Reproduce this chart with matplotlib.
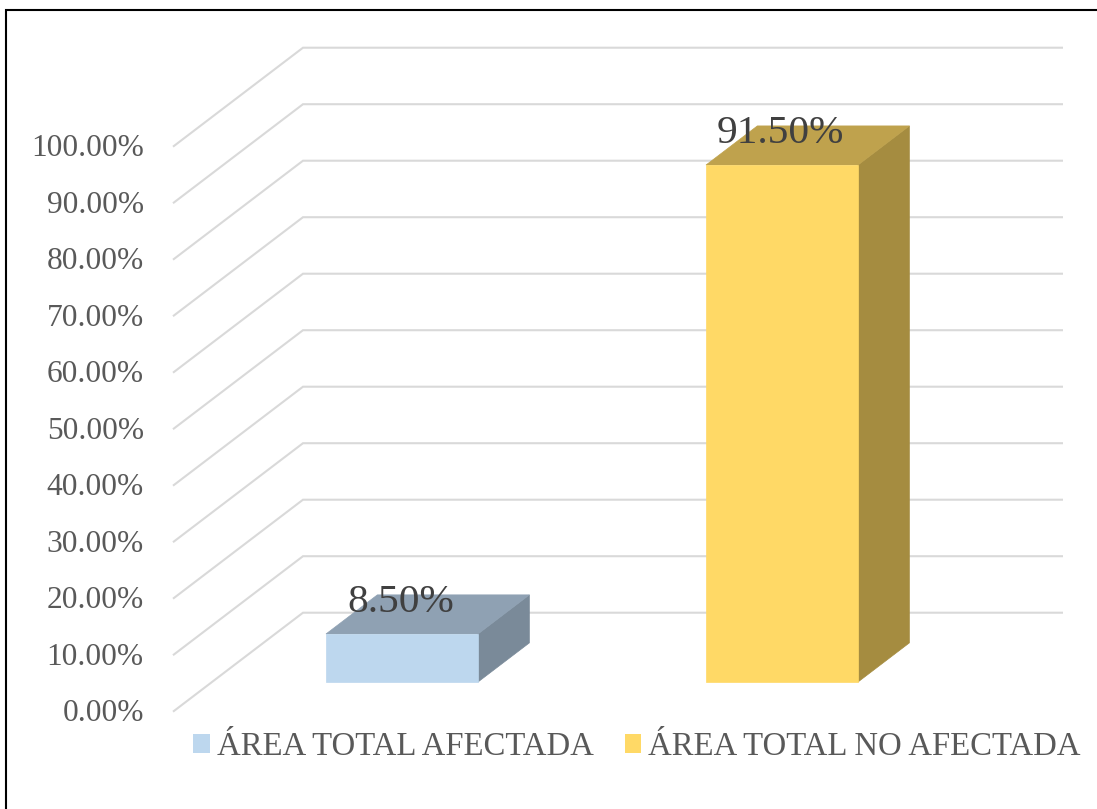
import matplotlib
matplotlib.use("Agg")
import matplotlib.pyplot as plt
from matplotlib.lines import Line2D
from matplotlib.patches import Patch
from matplotlib.transforms import ScaledTranslation

categories = ["ÁREA TOTAL AFECTADA", "ÁREA TOTAL NO AFECTADA"]
values = [8.5, 91.5]
value_labels = ["8.50%", "91.50%"]
ticks = [0, 10, 20, 30, 40, 50, 60, 70, 80, 90, 100]
tick_labels = ["0.00%", "10.00%", "20.00%", "30.00%", "40.00%", "50.00%",
               "60.00%", "70.00%", "80.00%", "90.00%", "100.00%"]
front_colors = ["#BDD7EE", "#FFD966"]
top_colors = ["#8FA1B3", "#BFA24D"]
side_colors = ["#7A8A99", "#A58C40"]

W, H = 1097, 809
plt.rcParams["font.family"] = ["Liberation Serif", "DejaVu Serif"]
fig = plt.figure(figsize=(W / 100, H / 100), dpi=100, facecolor="white")

# Oblique projection: depth 0 = front of floor, depth 1 = back wall
PX_PER_CAT = 380.0
PX_PER_VAL = 5.65
DEPTH_PX_X = 130.0
DEPTH_PX_Y = 99.0
DX = DEPTH_PX_X / PX_PER_CAT
DY = DEPTH_PX_Y / PX_PER_VAL
X0, Y0 = 173.0, 711.7

xmin, xmax = -0.5, 1.5 + DX
ymin, ymax = 0, 100 + DY
ax = fig.add_axes([X0 / W, (H - Y0) / H,
                   (xmax - xmin) * PX_PER_CAT / W,
                   (ymax - ymin) * PX_PER_VAL / H])
ax.set_xlim(xmin, xmax)
ax.set_ylim(ymin, ymax)
ax.patch.set_alpha(0)
for s in ax.spines.values():
    s.set_visible(False)


def proj(x, v, d):
    return x + d * DX, v + d * DY


GRID = "#D9D9D9"
for t in ticks:
    a = proj(-0.5, t, 0)
    b = proj(-0.5, t, 1)
    c = proj(1.5, t, 1)
    ax.plot([a[0], b[0], c[0]], [a[1], b[1], c[1]], color=GRID, lw=1.5,
            solid_joinstyle="miter", solid_capstyle="butt", zorder=1, clip_on=False)

HALF = 0.2
D0, D1 = 0.3, 0.695
for i, v in enumerate(values):
    xl, xr = i - HALF, i + HALF
    top = [proj(xl, v, D0), proj(xr, v, D0), proj(xr, v, D1), proj(xl, v, D1)]
    side = [proj(xr, 0, D0), proj(xr, v, D0), proj(xr, v, D1), proj(xr, 0, D1)]
    front = [proj(xl, 0, D0), proj(xr, 0, D0), proj(xr, v, D0), proj(xl, v, D0)]
    for poly, col in ((side, side_colors[i]), (top, top_colors[i]), (front, front_colors[i])):
        ax.fill(*zip(*poly), facecolor=col, edgecolor=col, lw=0.5, zorder=3)
    px, py = proj(i, v, D0)
    ax.annotate(value_labels[i], xy=(px, py), xytext=(-1.0, 22.5),
                textcoords="offset points", ha="center", va="center",
                fontsize=29.7, color="#404040", zorder=5)

ax.set_xticks([])
ax.set_yticks(ticks)
ax.set_yticklabels(tick_labels, fontsize=22.6, color="#595959")
ax.tick_params(axis="y", length=0, pad=21)
lift = ScaledTranslation(0, 1.5 / 100, fig.dpi_scale_trans)
for lab in ax.get_yticklabels():
    lab.set_transform(lab.get_transform() + lift)

handles = [Patch(facecolor=c, edgecolor="none") for c in front_colors]
leg = fig.legend(handles, categories, loc="center", bbox_to_anchor=(637 / W, (H - 747) / H),
                 ncol=2, frameon=False, fontsize=23.6, labelcolor="#595959",
                 handlelength=0.5, handleheight=0.5, handletextpad=0.22,
                 columnspacing=0.95, borderpad=0, borderaxespad=0)

# outer frame of the picture
fig.add_artist(Line2D([6.0 / W, 6.0 / W, 1.0], [0, (H - 10.0) / H, (H - 10.0) / H],
                      transform=fig.transFigure, color="black", lw=1.5,
                      solid_joinstyle="miter"))

fig.savefig("out.png", dpi=100, facecolor="white")
